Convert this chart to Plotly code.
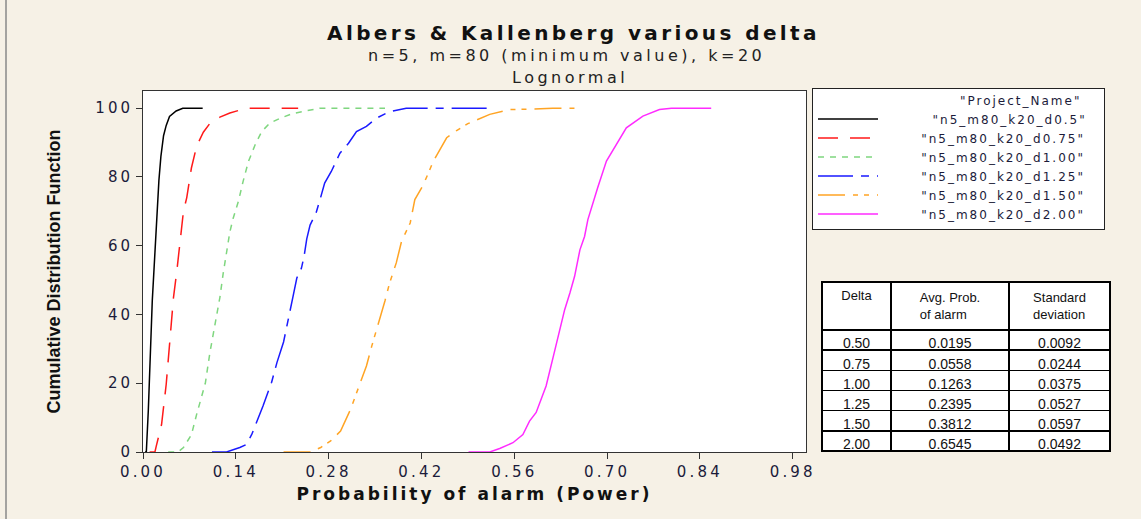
import plotly.graph_objects as go

W, H = 1141, 519

# ---------------- data ----------------
series_names = ['"n5_m80_k20_d0.5"', '"n5_m80_k20_d0.75"', '"n5_m80_k20_d1.00"',
                '"n5_m80_k20_d1.25"', '"n5_m80_k20_d1.50"', '"n5_m80_k20_d2.00"']

x_d050 = [0.003, 0.005, 0.008, 0.011, 0.014, 0.018, 0.021, 0.024, 0.027, 0.031, 0.035, 0.040, 0.050, 0.060, 0.090]
cdf_d050 = [0, 0, 12, 27, 44, 58, 70, 79, 86, 92, 95, 97.6, 99.2, 100, 100]

x_d075 = [0.010, 0.018, 0.020, 0.028, 0.035, 0.041, 0.046, 0.051, 0.056, 0.061, 0.066, 0.073, 0.081, 0.091, 0.101, 0.116, 0.131, 0.156, 0.234]
cdf_d075 = [0, 0, 1.7, 8, 19.7, 33, 45, 52.6, 61, 70, 74, 82.6, 89, 93, 95.6, 97.4, 98.6, 100, 100]

x_d100 = [0.038, 0.053, 0.061, 0.073, 0.081, 0.088, 0.094, 0.101, 0.109, 0.116, 0.121, 0.126, 0.131, 0.136, 0.144, 0.151, 0.159, 0.169, 0.179, 0.191, 0.207, 0.227, 0.247, 0.267, 0.365]
cdf_d100 = [0, 0, 1.3, 5, 11, 16, 20, 29, 37, 45, 52, 58, 64, 68, 73, 78.7, 84.5, 89.3, 93.2, 95.6, 97.1, 98.5, 99.3, 100, 100]

x_d125 = [0.104, 0.126, 0.146, 0.156, 0.164, 0.171, 0.181, 0.194, 0.202, 0.212, 0.218, 0.226, 0.232, 0.239, 0.243, 0.247, 0.252, 0.261, 0.267, 0.274, 0.284, 0.297, 0.310, 0.322, 0.337, 0.352, 0.372, 0.397, 0.521]
cdf_d125 = [0, 0, 1.3, 2.2, 5.1, 8.5, 13.4, 20.3, 26, 32, 38, 45, 50.6, 53.5, 57, 62, 66, 69.5, 73.4, 78.2, 81.6, 86.9, 89.8, 93.2, 94.7, 97.1, 99, 100, 100]

x_d150 = [0.212, 0.253, 0.268, 0.283, 0.298, 0.308, 0.313, 0.325, 0.337, 0.345, 0.357, 0.365, 0.372, 0.382, 0.390, 0.403, 0.410, 0.423, 0.438, 0.458, 0.473, 0.490, 0.523, 0.553, 0.578, 0.618, 0.659]
cdf_d150 = [0, 0, 1.3, 3.2, 6.1, 10, 12.4, 18.7, 25, 30.8, 38.5, 44, 49.2, 55, 61.3, 66.6, 73.4, 77.8, 84.6, 91.4, 93.5, 95.5, 98.2, 99.6, 99.7, 100, 100]

x_d200 = [0.491, 0.523, 0.538, 0.558, 0.573, 0.583, 0.593, 0.603, 0.608, 0.619, 0.629, 0.636, 0.644, 0.651, 0.659, 0.666, 0.671, 0.679, 0.686, 0.699, 0.714, 0.729, 0.754, 0.779, 0.797, 0.857]
cdf_d200 = [0, 0, 1, 2.7, 5.1, 9, 11.5, 16.3, 19.2, 27.9, 35.6, 41.4, 46.3, 51.1, 58.8, 62.7, 67.6, 72.9, 77, 84.6, 89.4, 94.3, 97.7, 99.6, 100, 100]

series_x = [x_d050, x_d075, x_d100, x_d125, x_d150, x_d200]
series_cdf = [cdf_d050, cdf_d075, cdf_d100, cdf_d125, cdf_d150, cdf_d200]

x_tick_vals = [0.00, 0.14, 0.28, 0.42, 0.56, 0.70, 0.84, 0.98]
x_tick_text = ["0.00", "0.14", "0.28", "0.42", "0.56", "0.70", "0.84", "0.98"]
y_tick_vals = [0, 20, 40, 60, 80, 100]
y_tick_text = ["0", "20", "40", "60", "80", "100"]

table_delta = ["0.50", "0.75", "1.00", "1.25", "1.50", "2.00"]
table_avg_prob = ["0.0195", "0.0558", "0.1263", "0.2395", "0.3812", "0.6545"]
table_std_dev = ["0.0092", "0.0244", "0.0375", "0.0527", "0.0597", "0.0492"]
table_headers = ["Delta", "Avg. Prob.<br>of alarm", "Standard<br>deviation"]

legend_title = '"Project_Name"'
title_main = "Albers & Kallenberg various delta"
title_sub1 = "n=5, m=80 (minimum value), k=20"
title_sub2 = "Lognormal"
x_title = "Probability of alarm (Power)"
y_title = "Cumulative Distribution Function"

# ---------------- styles ----------------
colors = ["#000000", "#ff1a1a", "#7fd67f", "#1a1aff", "#ffa424", "#ff2bff"]
dashes = ["solid", "20px,12px", "6px,6px", "35px,8px,8px,8px",
          "27px,8px,5px,6px,5px,8px", "solid"]
pad_counts = [13, 10, 10, 10, 10, 10]

BG = "#f6f1e6"
TXT = "#1b1b3a"
NB = "\u00a0"


def sp(text, px):
    return '<span style="letter-spacing:%.1fpx">%s</span>' % (px, text)


def px_x(p):
    return p / W


def px_y(p):
    return 1 - p / H


fig = go.Figure()
for name, xs, ys, c, d, n in zip(series_names, series_x, series_cdf, colors, dashes, pad_counts):
    fig.add_trace(go.Scatter(
        x=xs, y=ys, mode="lines", name=NB * n + sp(name, 2.0) + NB * 3,
        line=dict(color=c, width=1.5, dash=d),
        xaxis="x", yaxis="y",
    ))

fig.add_trace(go.Table(
    domain=dict(x=[px_x(822), px_x(1110)], y=[0, px_y(282)]),
    columnwidth=[69, 118, 101],
    header=dict(values=table_headers, fill_color="white",
                line=dict(color="black", width=1.5),
                font=dict(family="Liberation Sans, Arial", size=13, color="#111111"),
                align="center", height=40),
    cells=dict(values=[table_delta, table_avg_prob, table_std_dev],
               fill_color="white",
               line=dict(color="black", width=1.5),
               font=dict(family="Liberation Sans, Arial", size=14, color="#111111"),
               align="center", height=20.2),
))

fig.update_layout(
    width=W, height=H,
    margin=dict(l=0, r=0, t=0, b=0),
    paper_bgcolor=BG, plot_bgcolor="white",
    showlegend=True,
    legend=dict(
        x=px_x(812), y=px_y(88), xanchor="left", yanchor="top",
        bgcolor="white", bordercolor="#222222", borderwidth=1,
        font=dict(family="DejaVu Sans", size=12, color=TXT),
        title=dict(text=NB * 38 + sp(legend_title, 2.0),
                   font=dict(family="DejaVu Sans", size=12, color=TXT)),
        tracegroupgap=0, itemwidth=60,
    ),
    xaxis=dict(
        domain=[px_x(143), px_x(806)], range=[0, 1.0],
        tickvals=x_tick_vals, ticktext=[sp(t, 3.2) for t in x_tick_text],
        ticks="outside", ticklen=6, tickcolor="#333333",
        tickfont=dict(family="DejaVu Sans", size=15, color=TXT),
        showline=True, linecolor="#333333", linewidth=1, mirror=True,
        showgrid=False, zeroline=False, automargin=False,
        title=dict(text=sp(x_title, 3.0), standoff=8,
                   font=dict(family="DejaVu Sans", size=17, color="#111111", weight="bold")),
    ),
    yaxis=dict(
        domain=[px_y(452), px_y(91)], range=[0, 105],
        tickvals=y_tick_vals, ticktext=[sp(t, 3.0) for t in y_tick_text],
        ticks="outside", ticklen=6, tickcolor="#333333",
        tickfont=dict(family="DejaVu Sans", size=15, color=TXT),
        showline=True, linecolor="#333333", linewidth=1, mirror=True,
        showgrid=False, zeroline=False, automargin=False,
        title=dict(text=y_title, standoff=30,
                   font=dict(family="Liberation Sans Narrow, Liberation Sans", size=18,
                             color="#111111", weight="bold")),
    ),
    annotations=[
        dict(text=sp(title_main, 3.4), x=px_x(573), y=px_y(33),
             xref="paper", yref="paper", showarrow=False, xanchor="center", yanchor="middle",
             font=dict(family="DejaVu Sans", size=20, color="#111111", weight="bold")),
        dict(text=sp(title_sub1, 3.5), x=px_x(566), y=px_y(56),
             xref="paper", yref="paper", showarrow=False, xanchor="center", yanchor="middle",
             font=dict(family="DejaVu Sans", size=16, color="#222222")),
        dict(text=sp(title_sub2, 3.5), x=px_x(570), y=px_y(77),
             xref="paper", yref="paper", showarrow=False, xanchor="center", yanchor="middle",
             font=dict(family="DejaVu Sans", size=16, color="#222222")),
    ],
    shapes=[
        dict(type="line", xref="paper", yref="paper", x0=px_x(6), x1=px_x(6), y0=0, y1=1,
             line=dict(color="#888888", width=1.5)),
    ],
)

fig.write_html("out.html")
